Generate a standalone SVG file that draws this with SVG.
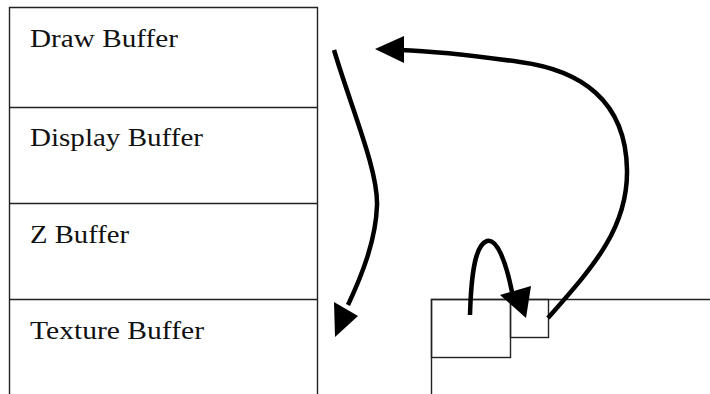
<svg xmlns="http://www.w3.org/2000/svg" width="710" height="394" viewBox="0 0 710 394">
<style>
.box{fill:none;stroke:#222;stroke-width:1.4}
.lbl{font-family:"Liberation Serif","Times New Roman",serif;font-size:25px;fill:#111}
.con{fill:none;stroke:#000;stroke-width:4.5;stroke-linecap:butt}
.head{fill:#000;stroke:none}
</style>
<rect width="710" height="394" fill="#fff"/>
<g id="draw-buffer">
<path class="box" d="M9.5,400 V7.5 H317.5 V400"/>
<text class="lbl" x="30" y="47" textLength="148" lengthAdjust="spacingAndGlyphs">Draw Buffer</text>
</g>
<g id="display-buffer">
<line class="box" x1="9" y1="107.5" x2="318" y2="107.5"/>
<text class="lbl" x="30" y="146" textLength="173" lengthAdjust="spacingAndGlyphs">Display Buffer</text>
</g>
<g id="z-buffer">
<line class="box" x1="9" y1="203.5" x2="318" y2="203.5"/>
<text class="lbl" x="30" y="243" textLength="99" lengthAdjust="spacingAndGlyphs">Z Buffer</text>
</g>
<g id="texture-buffer">
<line class="box" x1="9" y1="299.5" x2="318" y2="299.5"/>
<text class="lbl" x="30" y="339" textLength="174" lengthAdjust="spacingAndGlyphs">Texture Buffer</text>
</g>
<g id="target-area">
<path class="box" d="M431.5,400 V299.5 H712"/>
</g>
<g id="small-block-1">
<rect class="box" x="431.5" y="299.5" width="79" height="58"/>
</g>
<g id="small-block-2">
<rect class="box" x="510.5" y="299.5" width="38" height="38"/>
</g>
<g id="connectors">
<path class="con" d="M334,50 C352,110 378,170 377,205 C376,240 362,275 348,305"/>
<polygon class="head" points="335,337 334,302 358,316"/>
<path class="con" d="M548,318 C590,270 628,230 627,170 C626,100 580,70 520,62 C470,55 430,51 400,50"/>
<polygon class="head" points="375,49 404,36 404,63"/>
<path class="con" d="M470,315 C471,280 474,245 487,241 C497,238 506,262 512,292"/>
<polygon class="head" points="500,295 531,286 526,318"/>
</g>
</svg>
